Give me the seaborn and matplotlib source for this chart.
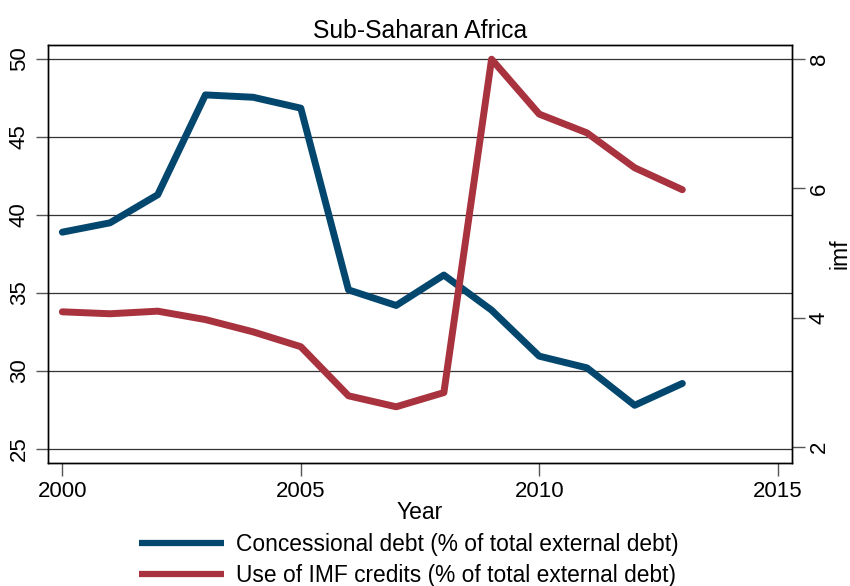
import matplotlib
matplotlib.use("Agg")
import matplotlib.pyplot as plt
import seaborn as sns
import pandas as pd

# ---- data ----
years = [2000, 2001, 2002, 2003, 2004, 2005, 2006, 2007,
         2008, 2009, 2010, 2011, 2012, 2013]
concessional = [38.9, 39.5, 41.3, 47.7, 47.55, 46.85, 35.2, 34.2,
                36.15, 33.9, 30.95, 30.2, 27.8, 29.2]
imf = [4.09, 4.06, 4.10, 3.97, 3.78, 3.55, 2.79, 2.62,
       2.84, 8.0, 7.15, 6.86, 6.32, 5.98]

left_ticks = [25, 30, 35, 40, 45, 50]
right_ticks = [2, 4, 6, 8]
x_ticks = [2000, 2005, 2010, 2015]

BLUE = "#03476f"
RED = "#a8323d"

sns.set_theme(style="white")
plt.rcParams["font.family"] = ["Liberation Sans", "DejaVu Sans"]
plt.rcParams.update({"text.color": "black", "axes.labelcolor": "black",
                     "xtick.color": "black", "ytick.color": "black"})

df = pd.DataFrame({"year": years, "conc": concessional, "imf": imf})

fig = plt.figure(figsize=(8.5, 5.86), dpi=100)
ax = fig.add_axes([0.0565, 0.2099, 0.8753, 0.7133])
ax2 = ax.twinx()

sns.lineplot(data=df, x="year", y="conc", ax=ax, color=BLUE, linewidth=5,
             solid_capstyle="round", label="Concessional debt (% of total external debt)",
             legend=False)
sns.lineplot(data=df, x="year", y="imf", ax=ax2, color=RED, linewidth=5,
             solid_capstyle="round", label="Use of IMF credits (% of total external debt)",
             legend=False)

ax.set_xlim(1999.7, 2015.3)
ax.set_ylim(24.1, 50.9)
ax2.set_ylim(1.75, 8.22)

ax.set_xticks(x_ticks)
ax.set_yticks(left_ticks)
ax2.set_yticks(right_ticks)

for a in (ax, ax2):
    for s in a.spines.values():
        s.set_color("black")
        s.set_linewidth(1.0)
ax.yaxis.grid(True, color="#333333", linewidth=0.9)
ax.xaxis.grid(False)
ax2.grid(False)

ax.tick_params(axis="both", direction="out", length=9, width=1, color="#555555",
               labelsize=16, labelcolor="black", pad=4)
ax.tick_params(axis="x", bottom=True)
ax.tick_params(axis="y", left=True, labelrotation=90, pad=4)
ax2.tick_params(axis="y", direction="out", length=9, width=1, color="#555555",
                labelsize=16, labelcolor="black", labelrotation=90, right=True, pad=3)
for lbl in ax.get_yticklabels() + ax2.get_yticklabels():
    lbl.set_va("center")

ax.set_xlabel("Year", fontsize=16.5, labelpad=-1)
ax.set_ylabel("")
ax2.set_ylabel("imf", fontsize=16.5)
ax2.yaxis.label.set_va("center")
ax2.yaxis.set_label_coords(1.0645, 0.5)
ax.set_title("Sub-Saharan Africa", fontsize=17.8, pad=5)

h1, l1 = ax.get_legend_handles_labels()
h2, l2 = ax2.get_legend_handles_labels()
leg = fig.legend(h1 + h2, l1 + l2, loc="upper left", bbox_to_anchor=(0.163, 0.09),
                 frameon=False, fontsize=16.4, handlelength=3.75, handletextpad=0.55,
                 labelspacing=0.34, borderpad=0, borderaxespad=0)
for line in leg.get_lines():
    line.set_linewidth(4.5)
    line.set_solid_capstyle("butt")

fig.savefig("out.png", dpi=100)
